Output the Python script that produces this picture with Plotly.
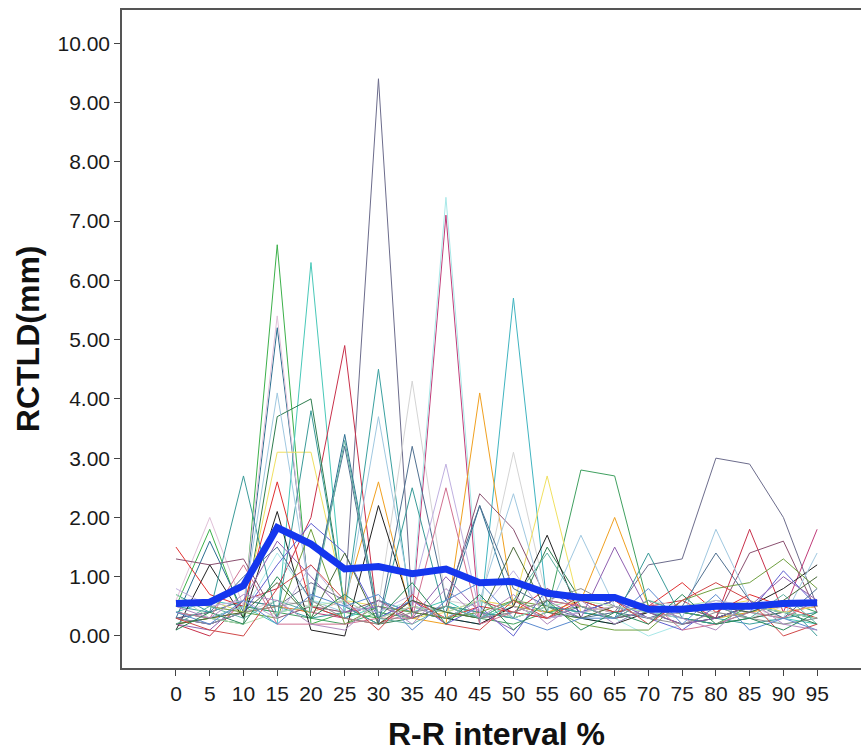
import plotly.graph_objects as go

x_pct = [0, 5, 10, 15, 20, 25, 30, 35, 40, 45, 50, 55, 60, 65, 70, 75, 80, 85, 90, 95]
x_tick_labels = [str(v) for v in x_pct]
y_tick_vals = [0, 1, 2, 3, 4, 5, 6, 7, 8, 9, 10]

s01 = [0.3, 0.2, 0.4, 0.5, 0.9, 0.6, 9.4, 0.5, 0.4, 0.3, 0.4, 0.3, 0.5, 0.4, 1.2, 1.3, 3.0, 2.9, 2.0, 0.5]
s02 = [0.5, 1.8, 0.3, 6.6, 0.2, 0.4, 0.3, 0.5, 0.4, 0.3, 0.6, 0.4, 0.5, 0.3, 0.4, 0.3, 0.2, 0.5, 0.4, 0.3]
s03 = [0.4, 0.6, 0.5, 0.2, 6.3, 0.3, 0.5, 0.4, 0.6, 0.3, 0.5, 0.4, 0.3, 0.2, 0.5, 0.4, 0.3, 0.4, 0.3, 0.2]
s04 = [0.2, 0.0, 0.6, 0.8, 2.0, 4.9, 0.2, 0.5, 0.3, 0.6, 0.4, 0.8, 0.5, 0.4, 0.5, 0.6, 0.3, 1.8, 0.4, 0.5]
s05 = [0.3, 0.4, 0.6, 0.5, 0.4, 0.3, 0.6, 0.4, 7.1, 0.2, 0.5, 0.3, 0.4, 0.6, 0.3, 0.4, 0.5, 0.3, 0.4, 1.8]
s06 = [0.5, 0.6, 0.4, 1.4, 0.6, 0.5, 0.4, 0.6, 7.4, 0.5, 0.4, 0.6, 0.5, 0.3, 0.0, 0.2, 0.3, 0.4, 0.2, 0.3]
s07 = [0.4, 0.3, 0.5, 0.4, 0.5, 0.3, 0.6, 0.4, 0.3, 0.2, 5.7, 0.5, 0.4, 0.3, 0.6, 0.4, 0.3, 0.5, 0.4, 0.3]
s08 = [0.2, 0.3, 0.4, 0.5, 0.4, 0.6, 2.6, 0.3, 0.2, 4.1, 0.5, 0.4, 0.6, 2.0, 0.5, 0.4, 0.3, 0.4, 0.5, 0.6]
s09 = [0.3, 1.6, 0.4, 5.2, 0.5, 3.4, 0.3, 0.6, 0.4, 2.2, 0.5, 0.3, 0.4, 0.6, 0.5, 0.4, 0.3, 0.5, 0.4, 0.3]
s10 = [0.6, 2.0, 0.5, 5.4, 0.4, 0.6, 0.3, 0.5, 0.4, 0.6, 0.5, 0.3, 0.4, 0.5, 0.3, 0.4, 0.6, 0.5, 0.3, 0.4]
s11 = [0.4, 0.3, 0.2, 3.7, 4.0, 0.5, 0.2, 0.3, 0.5, 0.4, 0.3, 1.5, 0.6, 0.4, 0.5, 0.3, 0.2, 0.3, 0.4, 0.2]
s12 = [0.5, 0.4, 0.6, 0.5, 0.3, 0.4, 4.5, 0.3, 0.5, 0.4, 0.3, 0.5, 0.4, 0.3, 0.4, 0.5, 0.3, 0.2, 0.3, 0.4]
s13 = [0.6, 0.5, 0.4, 0.6, 0.5, 0.4, 0.5, 4.3, 0.6, 0.5, 3.1, 0.6, 0.5, 0.4, 0.6, 0.5, 0.4, 0.3, 0.5, 0.6]
s14 = [0.2, 0.3, 0.5, 0.4, 0.3, 0.2, 0.4, 0.3, 0.5, 0.3, 0.2, 0.4, 2.8, 2.7, 0.5, 0.4, 0.3, 0.5, 0.6, 0.4]
s15 = [0.5, 0.6, 0.4, 3.1, 3.1, 0.6, 0.5, 0.3, 0.4, 0.6, 0.5, 2.7, 0.4, 0.5, 0.3, 0.4, 0.5, 0.6, 0.4, 0.5]
s16 = [1.3, 1.2, 1.3, 0.3, 0.5, 0.4, 0.6, 0.3, 0.5, 2.4, 1.8, 0.6, 0.5, 0.3, 0.4, 0.5, 0.3, 1.4, 1.6, 0.4]
s17 = [0.1, 1.2, 0.3, 2.1, 0.1, 0.0, 2.2, 0.4, 0.3, 0.2, 0.5, 1.7, 0.3, 0.2, 0.4, 0.2, 0.3, 0.5, 0.8, 1.2]
s18 = [1.5, 0.7, 0.5, 2.6, 0.5, 0.3, 0.2, 0.6, 0.3, 0.5, 0.4, 0.3, 0.6, 0.4, 0.5, 0.9, 0.4, 0.7, 0.5, 0.3]
s19 = [0.7, 0.4, 2.7, 0.3, 3.8, 0.5, 0.2, 2.5, 0.3, 0.6, 0.3, 0.5, 0.4, 0.3, 1.4, 0.3, 0.2, 0.4, 0.6, 0.0]
s20 = [0.3, 0.2, 0.4, 1.2, 1.9, 1.4, 0.3, 0.6, 0.2, 0.5, 0.0, 0.8, 0.4, 0.6, 0.3, 0.1, 0.5, 0.4, 1.1, 0.5]
s21 = [0.4, 0.3, 0.5, 4.1, 0.6, 0.4, 3.7, 0.5, 0.3, 0.6, 2.4, 0.4, 1.7, 0.5, 0.4, 0.3, 1.8, 0.6, 0.3, 1.4]
s22 = [0.6, 0.5, 0.4, 0.3, 1.8, 0.2, 0.5, 0.4, 0.3, 0.4, 0.6, 0.5, 0.2, 0.1, 0.1, 0.6, 0.8, 0.9, 1.3, 0.8]
s23 = [0.2, 0.1, 0.6, 1.6, 1.0, 0.4, 0.5, 0.3, 1.0, 0.4, 0.1, 0.6, 0.3, 1.5, 0.4, 0.2, 0.3, 0.5, 1.0, 0.6]
s24 = [0.3, 0.4, 1.0, 1.5, 0.6, 3.2, 0.2, 3.2, 0.6, 2.2, 0.8, 0.5, 0.3, 0.4, 0.3, 0.5, 1.4, 0.6, 0.3, 0.8]
s25 = [0.7, 0.3, 0.2, 0.4, 0.5, 0.6, 0.3, 0.5, 0.4, 0.6, 0.3, 0.5, 0.6, 0.5, 0.4, 0.5, 0.6, 0.5, 0.4, 0.3]
s26 = [0.4, 0.3, 1.2, 0.2, 0.2, 0.2, 0.3, 0.3, 2.5, 0.2, 0.4, 0.6, 0.5, 0.3, 0.6, 0.1, 0.2, 0.4, 0.3, 0.6]
s27 = [0.3, 0.2, 0.4, 0.5, 0.6, 0.3, 0.2, 0.4, 0.5, 0.3, 0.4, 0.6, 0.8, 0.5, 0.3, 0.2, 0.4, 0.3, 0.2, 0.3]
s28 = [0.2, 0.3, 0.4, 0.9, 0.3, 1.4, 0.2, 0.6, 0.4, 0.3, 1.5, 0.4, 0.3, 0.5, 0.3, 0.4, 0.5, 0.4, 0.6, 1.0]
s29 = [0.8, 0.5, 0.6, 0.3, 1.2, 0.5, 0.4, 0.7, 2.9, 0.4, 1.1, 0.3, 0.4, 0.5, 0.3, 0.4, 0.6, 0.5, 0.5, 0.6]
s30 = [0.2, 0.5, 0.3, 0.6, 0.4, 3.3, 0.3, 0.2, 0.5, 0.3, 0.6, 1.4, 0.5, 0.3, 0.6, 0.4, 0.5, 0.3, 0.7, 0.2]
s31 = [0.3, 0.1, 0.0, 0.8, 1.2, 0.6, 0.1, 0.7, 0.2, 0.1, 0.6, 0.3, 0.7, 0.6, 0.2, 0.6, 0.9, 0.6, 0.0, 0.2]
s32 = [0.4, 0.2, 0.6, 0.2, 0.7, 0.5, 0.7, 0.1, 0.6, 0.9, 0.3, 0.1, 0.3, 0.3, 0.8, 0.2, 0.7, 0.1, 0.3, 0.1]
s33 = [0.1, 0.4, 0.2, 1.0, 0.3, 0.7, 0.3, 0.9, 0.2, 0.7, 0.1, 0.6, 0.1, 0.4, 0.2, 0.7, 0.2, 0.3, 0.1, 0.4]
s34 = [0.5, 0.3, 0.7, 0.6, 0.2, 0.1, 0.6, 0.2, 0.8, 0.3, 0.7, 0.2, 0.6, 0.2, 0.5, 0.3, 0.1, 0.6, 0.2, 0.1]

mean_values = [0.55, 0.57, 0.85, 1.83, 1.55, 1.13, 1.17, 1.05, 1.13, 0.90, 0.92, 0.72, 0.65, 0.65, 0.45, 0.45, 0.50, 0.50, 0.55, 0.56]

series = [s01, s02, s03, s04, s05, s06, s07, s08, s09, s10, s11, s12, s13, s14, s15, s16, s17,
          s18, s19, s20, s21, s22, s23, s24, s25, s26, s27, s28, s29, s30, s31, s32, s33, s34]
colors = ["#6c6c8c", "#3cb04a", "#48c8b8", "#c8304a", "#c03a78", "#a8e8e8", "#40b4c0", "#f0a020",
          "#2c6e90", "#e0c0d8", "#2f7d4f", "#3aa0a0", "#d4d4d4", "#40a060", "#f0e060", "#8a5070",
          "#202020", "#e03030", "#3a9a98", "#6060d0", "#a0c8e0", "#70a040", "#9060b0", "#507090",
          "#b0e0b0", "#d07090", "#909090", "#4a6a3a", "#c0b0e0", "#60b0a0",
          "#d04848", "#5a8ad0", "#2a8a5a", "#b08ac0"]

fig = go.Figure()
for vals, col in zip(series, colors):
    fig.add_trace(go.Scatter(x=x_pct, y=vals, mode="lines",
                             line=dict(color=col, width=1), showlegend=False,
                             hoverinfo="skip"))
fig.add_trace(go.Scatter(x=x_pct, y=mean_values, mode="lines",
                         line=dict(color="#1436ee", width=7), showlegend=False))

font_family = "Liberation Sans, Arial, sans-serif"
fig.update_layout(
    template="none",
    width=861, height=751,
    margin=dict(l=122, r=0, t=10, b=83, pad=0, autoexpand=False),
    paper_bgcolor="white", plot_bgcolor="white",
    font=dict(family=font_family, size=21, color="#1a1a1a"),
    xaxis=dict(range=[-8, 101.5], tickvals=x_pct, ticktext=x_tick_labels,
               automargin=False,
               showgrid=False, zeroline=False, showline=True, mirror=True,
               linecolor="#555", linewidth=1.5, ticks="outside", ticklen=6,
               tickcolor="#444", tickfont=dict(size=21)),
    yaxis=dict(range=[-0.54, 10.56], tickvals=y_tick_vals, tickformat=".2f",
               automargin=False,
               showgrid=False, zeroline=False, showline=True, mirror=False,
               linecolor="#555", linewidth=1.5, ticks="outside", ticklen=6,
               tickcolor="#444", tickfont=dict(size=21)),
    annotations=[
        dict(text="<b>R-R interval %</b>", xref="paper", yref="paper",
             x=0.507, y=-0.1, xanchor="center", yanchor="middle",
             showarrow=False, font=dict(size=32, color="#111")),
        dict(text="<b>RCTLD(mm)</b>", xref="paper", yref="paper",
             x=-0.127, y=0.5, xanchor="center", yanchor="middle", textangle=-90,
             showarrow=False, font=dict(size=32, color="#111")),
    ],
)

fig.write_html(
    "out.html",
    config={"displayModeBar": False},
    post_script="document.body.style.margin='0';document.body.style.overflow='hidden';",
)
